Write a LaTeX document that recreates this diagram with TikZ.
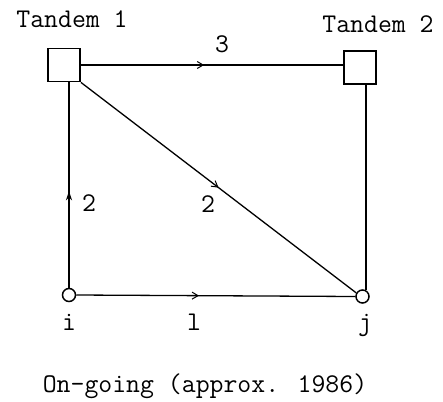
\documentclass[tikz,border=0pt]{standalone}
\usepackage{fontspec}
\usetikzlibrary{arrows.meta,decorations.markings}
\begin{document}
\begin{tikzpicture}[x=1pt,y=-1pt,
  lbl/.style={font=\ttfamily\fontsize{27}{29}\selectfont, inner sep=0pt, anchor=base},
  tandem/.style={draw, line width=1.8pt, minimum width=32pt, minimum height=33pt, inner sep=0pt},
  endpt/.style={draw, circle, line width=1.5pt, minimum size=13pt, inner sep=0pt},
  link/.style={line width=1.3pt},
  openarrow/.style={postaction={decorate}, decoration={markings, mark=at position #1 with {\arrow{Straight Barb[length=6pt,width=7pt,line width=1pt]}}}},
  fillarrow/.style={postaction={decorate}, decoration={markings, mark=at position #1 with {\arrow{Stealth[length=9pt,width=6pt]}}}},
]
\useasboundingbox (0,0) rectangle (443,401);
\node[tandem] (t1) at (64,65) {};
\node[tandem] (t2) at (360,67.5) {};
\node[endpt] (i) at (69,295) {};
\node[endpt] (j) at (362.5,296.5) {};

\node[lbl] (t1lbl) at (72,28) {Tandem 1};
\node[lbl] (t2lbl) at (378,33) {Tandem 2};
\node[lbl] (l3) at (222,53) {3};
\node[lbl] (l2a) at (89,211) {2};
\node[lbl] (l2b) at (208,212) {2};
\node[lbl] (li) at (69,330) {i};
\node[lbl] (ll) at (194,330) {l};
\node[lbl] (lj) at (365,330) {j};
\node[lbl] (cap) at (205,392) {On-going (approx. 1986)};

\draw[link, openarrow=0.47] (t1.east) -- (t1.east -| t2.west);
\draw[link, fillarrow=0.47] (i.north) -- (i.north |- t1.south);
\draw[link, openarrow=0.5] (t1.south east) -- (j.150);
\draw[link] (j.60) -- (j.60 |- t2.south);
\draw[link, openarrow=0.44] (i.east) -- (j.west);
\end{tikzpicture}
\end{document}
